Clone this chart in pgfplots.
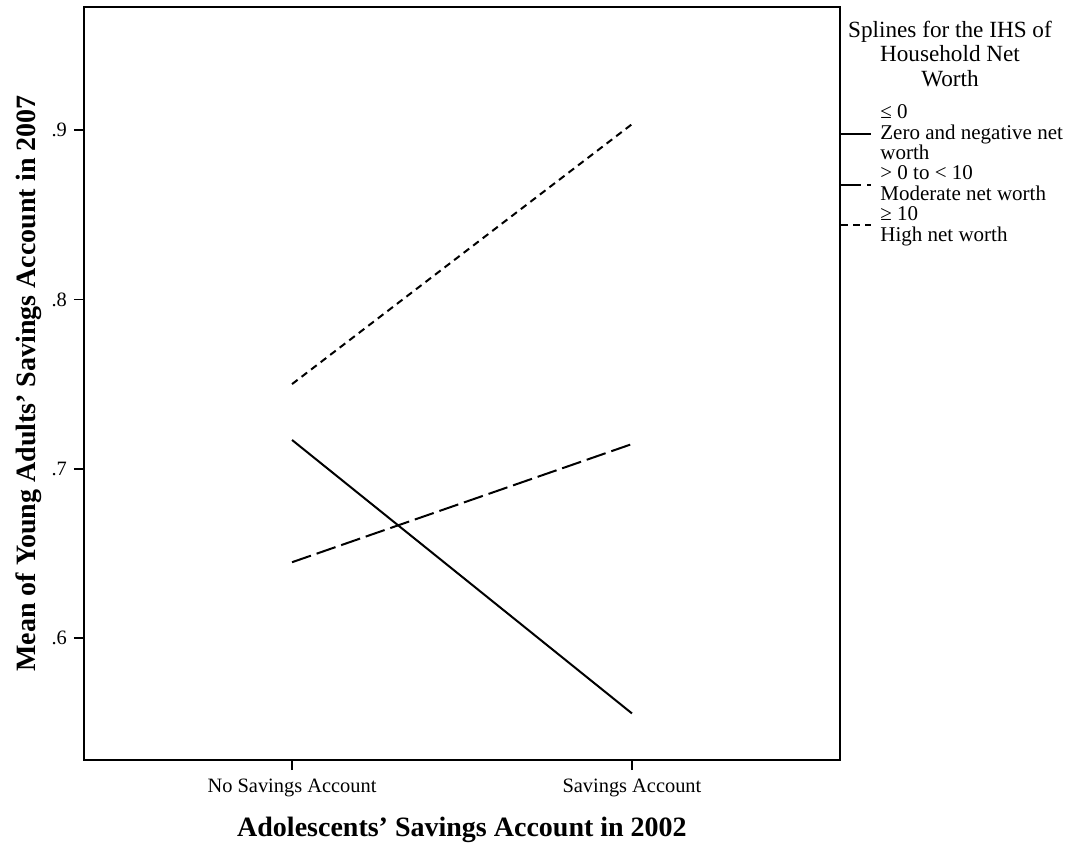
\documentclass[border=0pt]{standalone}
\usepackage{fontspec}
\setmainfont{Liberation Serif}
\usepackage{pgfplots}
\pgfplotsset{compat=1.18}
\begin{document}
\begin{tikzpicture}
\begin{axis}[
  scale only axis,
  width=378pt, height=376.5pt,
  xmin=-0.612, xmax=1.612,
  ymin=0.528, ymax=0.9727,
  xtick={0,1},
  xticklabels={No Savings Account, Savings Account},
  ytick={0.6,0.7,0.8,0.9},
  yticklabels={.6,.7,.8,.9},
  tick align=outside,
  tick pos=left,
  major tick length=5pt,
  axis line style={line width=0.9pt},
  tick style={line width=0.9pt, black},
  ticklabel style={font=\fontsize{10.2}{11}\selectfont},
  xticklabel style={yshift=-1pt},
  xlabel={Adolescents' Savings Account in 2002},
  ylabel={Mean of Young Adults' Savings Account in 2007},
  xlabel style={font=\fontsize{14}{15}\bfseries\selectfont, yshift=-3pt},
  ylabel style={font=\fontsize{14}{15}\bfseries\selectfont, yshift=-2pt},
  legend style={at={(1,0.873)}, anchor=north west, draw=none, fill=none,
    inner sep=0pt, row sep=0pt,
    font=\fontsize{10.5}{10.4}\selectfont,
    nodes={inner ysep=0.7pt, inner xsep=4pt},
    cells={anchor=west, align=left}},
  legend image code/.code={\draw[#1] (0pt,0pt) -- (15pt,0pt);},
  clip=false,
]
\addplot[black, line width=1pt] coordinates {(0,0.717) (1,0.5555)};
\addlegendentry{≤ 0\\Zero and negative net\\worth}
\addplot[black, line width=1pt, dash pattern=on 10pt off 3pt] coordinates {(0,0.6448) (1,0.7146)};
\addlegendentry{> 0 to < 10\\Moderate net worth}
\addplot[black, line width=1pt, dash pattern=on 3.5pt off 2.5pt] coordinates {(0,0.750) (1,0.9035)};
\addlegendentry{≥ 10\\High net worth}
\node[align=center, font=\fontsize{11.6}{12.2}\selectfont] at ([xshift=55pt,yshift=-23.5pt]rel axis cs:1,1)
  {Splines for the IHS of\\Household Net\\Worth};
\end{axis}
\pgfresetboundingbox
\path[use as bounding box] (-42pt,-41pt) rectangle (493.5pt,380pt);
\end{tikzpicture}
\end{document}
